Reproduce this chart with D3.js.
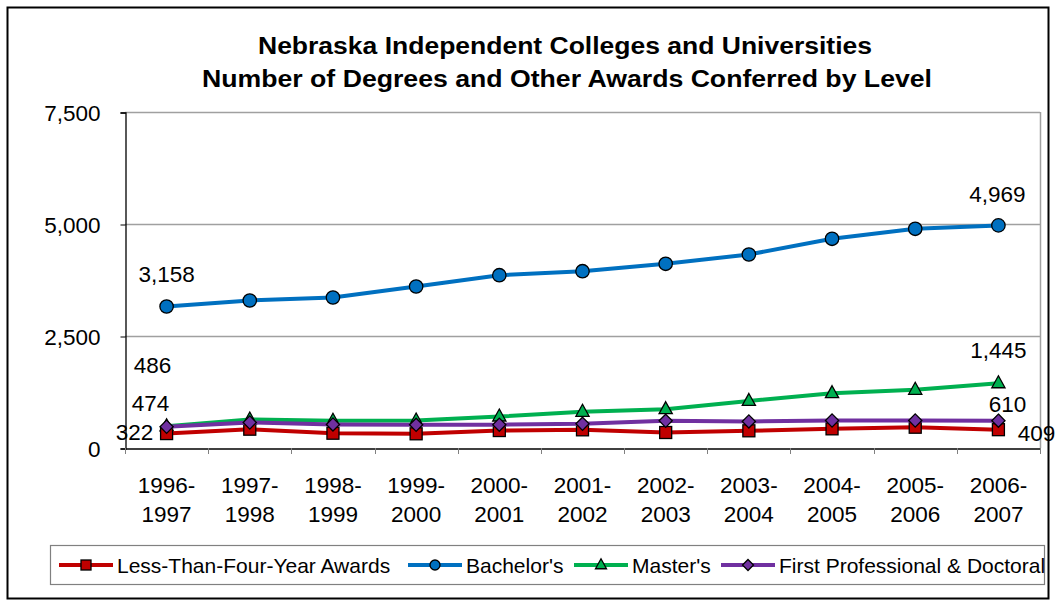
<!DOCTYPE html>
<html>
<head>
<meta charset="utf-8">
<script src="https://cdn.jsdelivr.net/npm/d3@7.9.0/dist/d3.min.js"></script>
<style>
  body { margin: 0; background: #fff; }
  svg { display: block; font-family: "Liberation Sans", Arial, sans-serif; }
</style>
</head>
<body>
<svg id="chart" width="1057" height="609"></svg>
<script>
const years = ['1996-1997', '1997-1998', '1998-1999', '1999-2000', '2000-2001', '2001-2002',
  '2002-2003', '2003-2004', '2004-2005', '2005-2006', '2006-2007'];

const lessThanFour = [322, 420, 330, 317, 390, 406, 346, 384, 428, 464, 409];
const bachelors = [3158, 3292, 3359, 3605, 3857, 3946, 4112, 4319, 4670, 4893, 4969];
const masters = [486, 636, 607, 614, 703, 808, 866, 1050, 1223, 1299, 1445];
const firstProf = [474, 569, 525, 518, 520, 540, 607, 592, 614, 614, 610];

const yTicks = [0, 2500, 5000, 7500];

const series = [
  { name: 'Less-Than-Four-Year Awards', values: lessThanFour, color: '#c00000', marker: 'square' },
  { name: "Bachelor's", values: bachelors, color: '#0070c0', marker: 'circle' },
  { name: "Master's", values: masters, color: '#00b050', marker: 'triangle' },
  { name: 'First Professional & Doctoral', values: firstProf, color: '#7030a0', marker: 'diamond' },
];

const svg = d3.select('#chart');
const plot = { left: 125, right: 1040, top: 112, bottom: 448 };
const FONT = '"Liberation Sans", Arial, sans-serif';

// outer frame
svg.append('rect')
  .attr('x', 7.5).attr('y', 7.5).attr('width', 1041).attr('height', 591)
  .attr('fill', '#fff').attr('stroke', '#000').attr('stroke-width', 2);

// title
svg.append('text')
  .attr('x', 565).attr('y', 54)
  .attr('text-anchor', 'middle').attr('font-weight', 'bold').attr('font-size', 23.5)
  .attr('textLength', 614).attr('lengthAdjust', 'spacingAndGlyphs')
  .text('Nebraska Independent Colleges and Universities');
svg.append('text')
  .attr('x', 567).attr('y', 87)
  .attr('text-anchor', 'middle').attr('font-weight', 'bold').attr('font-size', 23.5)
  .attr('textLength', 730).attr('lengthAdjust', 'spacingAndGlyphs')
  .text('Number of Degrees and Other Awards Conferred by Level');

const x = d3.scaleBand().domain(years).range([plot.left, plot.right]);
const y = d3.scaleLinear().domain([0, 7500]).range([plot.bottom, plot.top]);

// gridlines
svg.append('g')
  .selectAll('line')
  .data(yTicks.filter((d) => d > 0))
  .join('line')
  .attr('x1', plot.left).attr('x2', plot.right)
  .attr('y1', (d) => y(d) + 0.5).attr('y2', (d) => y(d) + 0.5)
  .attr('stroke', '#a0a0a0').attr('stroke-width', 1.5);

// right border of plot
svg.append('line')
  .attr('x1', plot.right + 0.5).attr('x2', plot.right + 0.5)
  .attr('y1', plot.top).attr('y2', plot.bottom)
  .attr('stroke', '#a0a0a0').attr('stroke-width', 1.5);

// y axis
const yAxis = svg.append('g')
  .attr('transform', `translate(${plot.left + 0.5},0.5)`)
  .call(d3.axisLeft(y).tickValues(yTicks).tickSize(5).tickPadding(20).tickFormat(d3.format(',')));
yAxis.select('.domain').attr('stroke', '#000').attr('stroke-width', 1.3);
yAxis.selectAll('.tick line').attr('stroke', '#000');
yAxis.selectAll('text')
  .attr('font-size', 22.5).attr('fill', '#000').attr('font-family', FONT)
  .attr('dy', '0.36em');

// x axis
const xAxis = svg.append('g')
  .attr('transform', `translate(0,${plot.bottom + 0.5})`)
  .call(d3.axisBottom(x).tickSize(0).tickFormat(''));
xAxis.select('.domain').attr('stroke', '#000').attr('stroke-width', 1.3);
svg.append('g')
  .selectAll('line')
  .data(years.map((d) => x(d)).concat([plot.right]))
  .join('line')
  .attr('x1', (d) => Math.round(d) + 0.5).attr('x2', (d) => Math.round(d) + 0.5)
  .attr('y1', plot.bottom).attr('y2', plot.bottom + 6)
  .attr('stroke', '#808080');

const xLabels = svg.append('g')
  .selectAll('text')
  .data(years)
  .join('text')
  .attr('text-anchor', 'middle')
  .attr('font-size', 22.5)
  .attr('fill', '#000');
xLabels.append('tspan')
  .attr('x', (d) => x(d) + x.bandwidth() / 2)
  .attr('y', 493)
  .text((d) => d.split('-')[0] + '-');
xLabels.append('tspan')
  .attr('x', (d) => x(d) + x.bandwidth() / 2)
  .attr('y', 522)
  .text((d) => d.split('-')[1]);

const cx = (i) => x(years[i]) + x.bandwidth() / 2;

function drawMarker(g, type, color, px, py, r) {
  if (type === 'circle') {
    g.append('circle').attr('cx', px).attr('cy', py).attr('r', r)
      .attr('fill', color).attr('stroke', '#000').attr('stroke-width', 1.3);
  } else if (type === 'square') {
    g.append('rect').attr('x', px - r).attr('y', py - r).attr('width', 2 * r).attr('height', 2 * r)
      .attr('fill', color).attr('stroke', '#000').attr('stroke-width', 1.3);
  } else if (type === 'triangle') {
    g.append('path')
      .attr('d', `M${px},${py - r * 1.25}L${px + r * 1.1},${py + r * 0.75}L${px - r * 1.1},${py + r * 0.75}Z`)
      .attr('fill', color).attr('stroke', '#000').attr('stroke-width', 1.3);
  } else {
    g.append('path')
      .attr('d', `M${px},${py - r * 1.1}L${px + r * 1.1},${py}L${px},${py + r * 1.1}L${px - r * 1.1},${py}Z`)
      .attr('fill', color).attr('stroke', '#000').attr('stroke-width', 1.3);
  }
}

const line = d3.line().x((d, i) => cx(i)).y((d) => y(d));

// draw order: bachelor's, master's, less-than-four, first professional on top
[1, 2, 0, 3].forEach((k) => {
  const s = series[k];
  const g = svg.append('g');
  g.append('path')
    .attr('d', line(s.values))
    .attr('fill', 'none')
    .attr('stroke', s.color)
    .attr('stroke-width', 4)
    .attr('stroke-linejoin', 'round');
  s.values.forEach((v, i) => drawMarker(g, s.marker, s.color, cx(i), y(v), s.marker === 'circle' ? 6.7 : 6));
});

// data labels (first and last point of each series)
const fmt = d3.format(',');
const labels = [
  { v: bachelors[0], px: cx(0), py: 282 },
  { v: bachelors[10], px: cx(10) - 1, py: 202 },
  { v: masters[0], px: cx(0) - 14, py: 373 },
  { v: firstProf[0], px: cx(0) - 16, py: 411 },
  { v: lessThanFour[0], px: cx(0) - 32, py: 440 },
  { v: masters[10], px: cx(10), py: 358 },
  { v: firstProf[10], px: cx(10) + 9, py: 412 },
  { v: lessThanFour[10], px: cx(10) + 38, py: 441 },
];
svg.append('g')
  .selectAll('text')
  .data(labels)
  .join('text')
  .attr('x', (d) => d.px)
  .attr('y', (d) => d.py)
  .attr('text-anchor', 'middle')
  .attr('font-size', 22.5)
  .attr('fill', '#000')
  .text((d) => fmt(d.v));

// legend
const legend = svg.append('g');
legend.append('rect')
  .attr('x', 50.5).attr('y', 545.5).attr('width', 994).attr('height', 39)
  .attr('fill', '#fff').attr('stroke', '#808080').attr('stroke-width', 1.2);

const legendItems = [
  { s: series[0], x0: 59 },
  { s: series[1], x0: 408 },
  { s: series[2], x0: 574 },
  { s: series[3], x0: 721 },
];
legendItems.forEach(({ s, x0 }) => {
  const ly = 565;
  legend.append('line')
    .attr('x1', x0).attr('x2', x0 + 54).attr('y1', ly).attr('y2', ly)
    .attr('stroke', s.color).attr('stroke-width', 4);
  drawMarker(legend.append('g'), s.marker, s.color, x0 + 27, ly, 5);
  legend.append('text')
    .attr('x', x0 + 58).attr('y', ly + 8)
    .attr('font-size', 21).attr('fill', '#000')
    .text(s.name);
});
</script>
</body>
</html>
